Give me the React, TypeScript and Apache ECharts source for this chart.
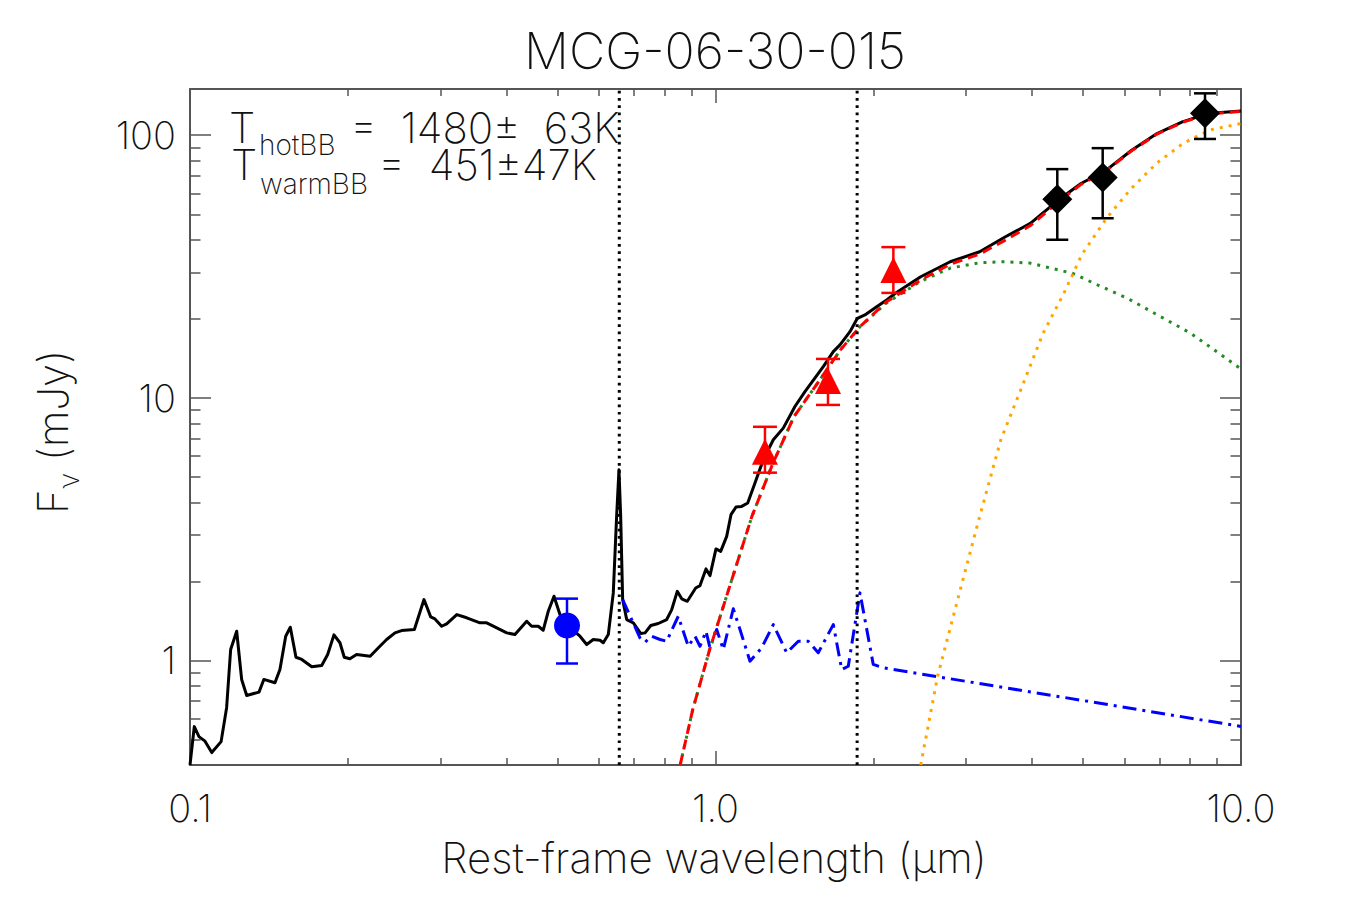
import React, { useEffect, useRef } from "react";
import * as echarts from "echarts";

// ---------- data ----------
const title = "MCG-06-30-015";
const xName = "Rest-frame wavelength (μm)";

const X_MIN = 0.1;
const X_MAX = 10;
const Y_MIN = 0.4;
const Y_MAX = 150;

const xMajorTicks = [0.1, 1, 10];
const xMajorLabels = ["0.1", "1.0", "10.0"];
const xMinorTicks = [0.2, 0.3, 0.4, 0.5, 0.6, 0.7, 0.8, 0.9, 2, 3, 4, 5, 6, 7, 8, 9];
const yMajorTicks = [1, 10, 100];
const yMajorLabels = ["1", "10", "100"];
const yMinorTicks = [0.4, 0.5, 0.6, 0.7, 0.8, 0.9, 2, 3, 4, 5, 6, 7, 8, 9, 20, 30, 40, 50, 60, 70, 80, 90];

// observed spectrum + total (black)
const specWave = [
  0.1, 0.1019, 0.104, 0.1068, 0.11, 0.1146, 0.1174, 0.1195, 0.1227, 0.1254, 0.1282, 0.1353, 0.1382,
  0.1451, 0.1483, 0.1521, 0.1552, 0.1591, 0.1632, 0.1705, 0.1781, 0.1828, 0.1879, 0.1929, 0.1966,
  0.2015, 0.2075, 0.2202, 0.2283, 0.2367, 0.2455, 0.2527, 0.2673, 0.2788, 0.2871, 0.2925, 0.3012,
  0.3079, 0.3219, 0.3362, 0.3563, 0.3669, 0.3835, 0.4006, 0.4153, 0.4372, 0.4468, 0.46, 0.4701,
  0.4806, 0.4928, 0.5058, 0.5284, 0.5522, 0.5686, 0.5854, 0.6028, 0.6116, 0.6252, 0.639, 0.6484,
  0.6551, 0.66, 0.6658, 0.6776, 0.6976, 0.7208, 0.7345, 0.753, 0.7783, 0.8075, 0.8255, 0.8458,
  0.8624, 0.8838, 0.9169, 0.9344, 0.9592, 0.9761, 1.0021, 1.023, 1.0502, 1.0702, 1.0939, 1.1216,
  1.1516, 1.1888, 1.2327, 1.2882, 1.3457, 1.4164, 1.4799, 1.6036, 1.6755, 1.7253, 1.8026, 1.8621,
  1.9245, 2.0263, 2.117, 2.1995, 2.4578, 2.7968, 3.1822, 3.5554, 3.9737, 4.4805, 4.9607, 5.5419,
  6.1921, 6.9201, 7.7324, 8.6392, 10.0,
];
const specFlux = [
  0.4, 0.56, 0.513, 0.493, 0.446, 0.491, 0.661, 1.101, 1.292, 0.847, 0.736, 0.758, 0.847,
  0.823, 0.924, 1.237, 1.339, 1.029, 1.009, 0.946, 0.957, 1.054, 1.252, 1.168, 1.029,
  1.015, 1.054, 1.038, 1.118, 1.202, 1.274, 1.3, 1.312, 1.706, 1.466, 1.44, 1.35,
  1.379, 1.496, 1.454, 1.391, 1.391, 1.331, 1.274, 1.256, 1.411, 1.35, 1.35, 1.304,
  1.54, 1.756, 1.496, 1.335, 1.237, 1.15, 1.202, 1.194, 1.168, 1.256, 1.809, 3.538,
  5.323, 3.538, 1.706, 1.432, 1.391, 1.267, 1.274, 1.359, 1.383, 1.432, 1.563, 1.834,
  1.717, 1.681, 1.889, 1.928, 2.232, 2.105, 2.659, 2.604, 2.97, 3.591, 3.84, 3.861,
  3.978, 4.74, 5.811, 6.924, 7.67, 9.268, 10.57, 13.15, 15.0, 15.91, 17.87, 20.09,
  20.69, 22.24, 23.59, 25.01, 28.92, 32.98, 36.0, 40.99, 46.16, 56.4, 65.52, 73.61,
  87.7, 101.5, 112.4, 120.9, 123.7,
];

// host / AGN template (blue dash-dot)
const hostWave = [
  0.6658, 0.7182, 0.7345, 0.7557, 0.7842, 0.8075, 0.8494, 0.8876, 0.9141, 0.9344, 0.9592, 0.9761,
  1.0052, 1.0347, 1.081, 1.1133, 1.1631, 1.2242, 1.2883, 1.3661, 1.4373, 1.5013, 1.5686, 1.6756,
  1.7385, 1.7892, 1.8834, 1.9962, 2.0857, 10.0,
];
const hostFlux = [
  1.706, 1.22, 1.174, 1.237, 1.202, 1.184, 1.474, 1.133, 1.237, 1.133, 1.292, 1.118,
  1.312, 1.101, 1.573, 1.312, 0.994, 1.118, 1.37, 1.07, 1.184, 1.184, 1.07, 1.37,
  0.924, 0.951, 1.809, 0.966, 0.938, 0.561,
];

// hot blackbody (green dotted)
const hotWave = [
  0.8565, 0.9053, 0.9748, 1.0693, 1.1729, 1.2866, 1.4106, 1.5477, 1.729, 1.8834, 2.117, 2.4578,
  2.797, 3.182, 3.555, 3.967, 4.781, 5.338, 6.079, 8.022, 10.0,
];
const hotFlux = [
  0.4, 0.651, 1.101, 1.974, 3.538, 5.646, 8.489, 11.04, 15.23, 18.67, 23.0, 27.8,
  31.2, 32.7, 33.0, 32.6, 29.8, 26.9, 23.94, 17.62, 12.89,
];

// warm blackbody (orange dotted)
const warmWave = [
  2.4578, 2.6469, 2.9008, 3.1822, 3.4909, 3.8312, 4.2007, 4.6048, 4.976, 5.551, 6.149, 6.911,
  7.767, 8.73, 10.0,
];
const warmFlux = [
  0.4, 0.872, 1.756, 3.538, 6.924, 11.04, 17.62, 25.07, 35.07, 48.37, 61.95, 78.25,
  93.24, 104.8, 110.8,
];

// hot + warm blackbody sum (red dashed)
const bbSumWave = [
  0.8565, 0.9053, 0.9748, 1.0693, 1.1729, 1.2866, 1.4106, 1.5477, 1.729, 1.8834, 2.117, 2.4578,
  2.797, 3.182, 3.555, 3.974, 4.4805, 4.9607, 5.5419, 6.1921, 6.9201, 7.7324, 8.6392, 10.0,
];
const bbSumFlux = [
  0.4, 0.651, 1.101, 1.974, 3.538, 5.646, 8.489, 11.04, 15.23, 18.67, 23.24, 28.1,
  32.3, 35.3, 39.8, 45.3, 55.5, 65.0, 73.3, 87.3, 101.0, 111.9, 120.5, 123.3,
];

// emission lines marked by vertical dotted lines
const lineWaves = [0.656, 1.86];

// photometry
const opticalWave = [0.5217];
const opticalFlux = [1.359];
const opticalLo = [0.974];
const opticalHi = [1.72];

const nirWave = [1.242, 1.637, 2.18];
const nirFlux = [6.23, 11.6, 30.7];
const nirLo = [5.19, 9.4, 25.1];
const nirHi = [7.76, 14.07, 37.5];

const mirWave = [4.471, 5.455, 8.541];
const mirFlux = [57.1, 69.0, 121.2];
const mirLo = [40.0, 48.3, 96.8];
const mirHi = [74.3, 89.3, 144.4];

const tHotLabel = "=  1480±  63K";
const tWarmLabel = "=  451±47K";

// ---------- helpers ----------
const zip = (a: number[], b: number[]) => a.map((v, i) => [v, b[i]]);
const zip3 = (a: number[], b: number[], c: number[]) => a.map((v, i) => [v, b[i], c[i]]);

const FONT = "Inter, Roboto, 'DejaVu Sans', sans-serif";
const WEIGHT = 200;
const AXIS_COLOR = "#555";

function errorSeries(wave: number[], lo: number[], hi: number[], color: string, cap: number) {
  return {
    type: "custom",
    xAxisIndex: 0,
    yAxisIndex: 0,
    z: 5,
    renderItem: (params: any, api: any) => {
      const x = api.value(0);
      const p1 = api.coord([x, api.value(1)]);
      const p2 = api.coord([x, api.value(2)]);
      const hw = cap / 2;
      const style = { stroke: color, lineWidth: 2.5 };
      return {
        type: "group",
        children: [
          { type: "line", shape: { x1: p1[0], y1: p1[1], x2: p2[0], y2: p2[1] }, style },
          { type: "line", shape: { x1: p1[0] - hw, y1: p1[1], x2: p1[0] + hw, y2: p1[1] }, style },
          { type: "line", shape: { x1: p2[0] - hw, y1: p2[1], x2: p2[0] + hw, y2: p2[1] }, style },
        ],
      };
    },
    encode: { x: 0, y: [1, 2] },
    data: zip3(wave, lo, hi),
  };
}

function lineSeries(data: number[][], color: string, width: number, type: any, z = 2) {
  return {
    type: "line",
    xAxisIndex: 0,
    yAxisIndex: 0,
    data,
    showSymbol: false,
    symbol: "none",
    z,
    lineStyle: { color, width, type, cap: "butt", join: "round" },
    silent: true,
  };
}

export default function App() {
  const ref = useRef<HTMLDivElement>(null);

  useEffect(() => {
    const chart = echarts.init(ref.current!, null, { renderer: "svg" });

    const xBase = { type: "log", logBase: 10, min: X_MIN, max: X_MAX, splitLine: { show: false } };
    const yBase = { type: "log", logBase: 10, min: Y_MIN, max: Y_MAX, splitLine: { show: false } };
    const axisLine = { show: true, onZero: false, lineStyle: { color: AXIS_COLOR, width: 2 } };
    const tickStyle = { color: AXIS_COLOR, width: 1.5 };

    const xAxes = [
      {
        ...xBase,
        position: "bottom",
        axisLine,
        axisTick: { show: true, inside: true, length: 14, customValues: xMajorTicks, lineStyle: tickStyle },
        axisLabel: {
          show: true,
          customValues: xMajorTicks,
          formatter: (v: number) => xMajorLabels[Math.round(Math.log10(v)) + 1],
          fontFamily: FONT,
          fontWeight: WEIGHT,
          fontSize: 38,
          color: "#111",
          margin: 24,
        },
      },
      {
        ...xBase,
        position: "bottom",
        axisLine: { show: false },
        axisTick: { show: true, inside: true, length: 7, customValues: xMinorTicks, lineStyle: tickStyle },
        axisLabel: { show: false },
      },
      {
        ...xBase,
        position: "top",
        axisLine,
        axisTick: { show: true, inside: true, length: 14, customValues: xMajorTicks, lineStyle: tickStyle },
        axisLabel: { show: false },
      },
      {
        ...xBase,
        position: "top",
        axisLine: { show: false },
        axisTick: { show: true, inside: true, length: 7, customValues: xMinorTicks, lineStyle: tickStyle },
        axisLabel: { show: false },
      },
    ];

    const yAxes = [
      {
        ...yBase,
        position: "left",
        axisLine,
        axisTick: { show: true, inside: true, length: 21, customValues: yMajorTicks, lineStyle: tickStyle },
        axisLabel: {
          show: true,
          customValues: yMajorTicks,
          formatter: (v: number) => yMajorLabels[Math.round(Math.log10(v))],
          fontFamily: FONT,
          fontWeight: WEIGHT,
          fontSize: 38,
          color: "#111",
          margin: 14,
        },
      },
      {
        ...yBase,
        position: "left",
        axisLine: { show: false },
        axisTick: { show: true, inside: true, length: 10.5, customValues: yMinorTicks, lineStyle: tickStyle },
        axisLabel: { show: false },
      },
      {
        ...yBase,
        position: "right",
        axisLine,
        axisTick: { show: true, inside: true, length: 21, customValues: yMajorTicks, lineStyle: tickStyle },
        axisLabel: { show: false },
      },
      {
        ...yBase,
        position: "right",
        axisLine: { show: false },
        axisTick: { show: true, inside: true, length: 10.5, customValues: yMinorTicks, lineStyle: tickStyle },
        axisLabel: { show: false },
      },
    ];

    const textStyle = (size: number, lh?: number) => ({
      fontFamily: FONT,
      fontWeight: WEIGHT,
      fontSize: size,
      fill: "#111",
      textVerticalAlign: "middle",
      ...(lh ? { lineHeight: lh } : {}),
    });

    const option: any = {
      animation: false,
      backgroundColor: "#fff",
      grid: { left: 190, right: 109, top: 89, bottom: 135, containLabel: false },
      xAxis: xAxes,
      yAxis: yAxes,
      series: [
        lineSeries(zip(specWave, specFlux), "#000", 3, "solid", 2),
        lineSeries(zip(hostWave, hostFlux), "#0000ff", 3, [14, 6, 3, 6], 3),
        lineSeries(zip(hotWave, hotFlux), "#228b22", 3, [3, 6], 3),
        lineSeries(zip(warmWave, warmFlux), "#ffa500", 3, [3, 6], 3),
        lineSeries(zip(bbSumWave, bbSumFlux), "#ff0000", 3, [10, 6], 4),
        ...lineWaves.map((w) => lineSeries([[w, Y_MIN], [w, Y_MAX]], "#000", 3, [2.7, 4.6], 4)),
        errorSeries(opticalWave, opticalLo, opticalHi, "#0000ff", 22),
        errorSeries(nirWave, nirLo, nirHi, "#ff0000", 24),
        errorSeries(mirWave, mirLo, mirHi, "#000000", 22),
        {
          type: "scatter",
          xAxisIndex: 0,
          yAxisIndex: 0,
          z: 6,
          symbol: "circle",
          symbolSize: 26,
          itemStyle: { color: "#0000ff", opacity: 1 },
          data: zip(opticalWave, opticalFlux),
        },
        {
          type: "scatter",
          xAxisIndex: 0,
          yAxisIndex: 0,
          z: 6,
          symbol: "triangle",
          symbolSize: [26, 26],
          itemStyle: { color: "#ff0000", opacity: 1 },
          data: zip(nirWave, nirFlux),
        },
        {
          type: "scatter",
          xAxisIndex: 0,
          yAxisIndex: 0,
          z: 6,
          symbol: "diamond",
          symbolSize: [30, 30],
          itemStyle: { color: "#000000", opacity: 1 },
          data: zip(mirWave, mirFlux),
        },
      ],
      graphic: {
        elements: [
          { type: "text", x: 715, y: 51, style: { ...textStyle(50), text: title, textAlign: "center" } },
          { type: "text", x: 714, y: 857, style: { ...textStyle(42), text: xName, textAlign: "center" } },
          {
            type: "text",
            x: 52,
            y: 432,
            rotation: Math.PI / 2,
            style: {
              text: "{a|F}{b|ν}{a| (mJy)}",
              textAlign: "center",
              textVerticalAlign: "middle",
              rich: {
                a: { fontFamily: FONT, fontWeight: WEIGHT, fontSize: 42, fill: "#111", lineHeight: 62, verticalAlign: "middle" },
                b: { fontFamily: FONT, fontWeight: WEIGHT, fontSize: 28, fill: "#111", lineHeight: 30, verticalAlign: "bottom" },
              },
            },
          },
          // annotation: T_hotBB
          { type: "text", x: 229, y: 127, style: { ...textStyle(42, 32), text: "T", textAlign: "left" } },
          { type: "text", x: 259, y: 145, style: { ...textStyle(28, 22), text: "hotBB", textAlign: "left" } },
          { type: "text", x: 350, y: 127, style: { ...textStyle(42, 32), text: tHotLabel, textAlign: "left" } },
          // annotation: T_warmBB
          { type: "text", x: 231, y: 164, style: { ...textStyle(42, 32), text: "T", textAlign: "left" } },
          { type: "text", x: 260, y: 184, style: { ...textStyle(28, 22), text: "warmBB", textAlign: "left" } },
          { type: "text", x: 378, y: 164, style: { ...textStyle(42, 32), text: tWarmLabel, textAlign: "left" } },
        ],
      },
    };

    chart.setOption(option);
    return () => chart.dispose();
  }, []);

  return (
    <div
      ref={ref}
      style={{ position: "fixed", left: 0, top: 0, width: 1350, height: 900, background: "#fff" }}
    />
  );
}
